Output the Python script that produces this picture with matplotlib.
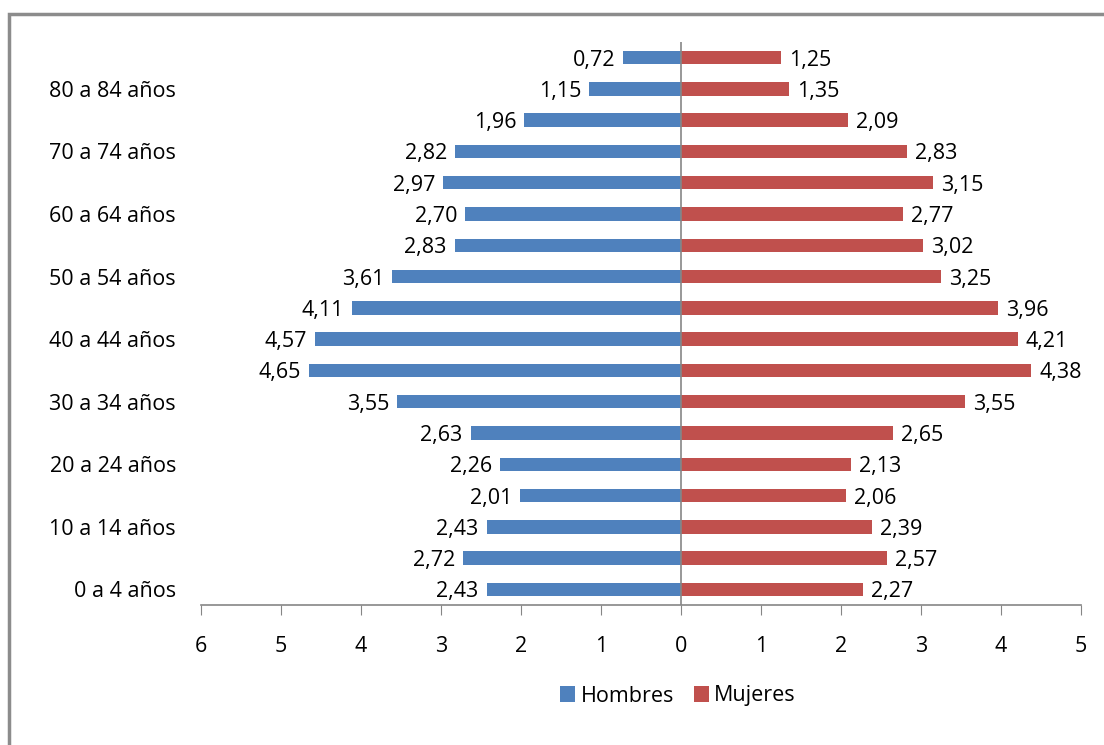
import numpy as np
import matplotlib.pyplot as plt
from matplotlib.patches import Rectangle

plt.rcParams['font.family'] = ['Open Sans', 'DejaVu Sans']

grupos = ['0 a 4 años', '5 a 9 años', '10 a 14 años', '15 a 19 años', '20 a 24 años',
          '25 a 29 años', '30 a 34 años', '35 a 39 años', '40 a 44 años', '45 a 49 años',
          '50 a 54 años', '55 a 59 años', '60 a 64 años', '65 a 69 años', '70 a 74 años',
          '75 a 79 años', '80 a 84 años', '85 y más años']
hombres = [2.43, 2.72, 2.43, 2.01, 2.26, 2.63, 3.55, 4.65, 4.57, 4.11,
           3.61, 2.83, 2.70, 2.97, 2.82, 1.96, 1.15, 0.72]
mujeres = [2.27, 2.57, 2.39, 2.06, 2.13, 2.65, 3.55, 4.38, 4.21, 3.96,
           3.25, 3.02, 2.77, 3.15, 2.83, 2.09, 1.35, 1.25]
xticks = [-6, -5, -4, -3, -2, -1, 0, 1, 2, 3, 4, 5]

azul = '#4F81BD'
rojo = '#C0504D'
fs = 15.5

fig = plt.figure(figsize=(11.04, 7.45), dpi=100)
ax = fig.add_axes([201/1104, 1-605/745, 880/1104, 563/745])

y = np.arange(len(grupos))
h = np.array(hombres)
m = np.array(mujeres)

ax.barh(y, -h, height=0.43, color=azul, label='Hombres')
ax.barh(y, m, height=0.43, color=rojo, label='Mujeres')

for yi, v in zip(y, h):
    ax.text(-v - 0.1, yi - 0.08, f'{v:.2f}'.replace('.', ','), ha='right', va='center', fontsize=fs)
for yi, v in zip(y, m):
    ax.text(v + 0.1, yi - 0.08, f'{v:.2f}'.replace('.', ','), ha='left', va='center', fontsize=fs)

ax.set_xlim(-6, 5)
ax.set_ylim(-0.5, len(grupos) - 0.5)
ax.axvline(0, color='#868686', lw=1.2, zorder=3)

ax.set_xticks(xticks)
ax.set_xticklabels([str(abs(t)) for t in xticks], fontsize=fs)
ax.set_yticks(y[::2])
ax.set_yticklabels(grupos[::2], fontsize=fs)
ax.tick_params(axis='y', length=0, pad=18)
ax.tick_params(axis='x', direction='out', length=7, color='#868686', pad=15)

for s in ['top', 'right', 'left']:
    ax.spines[s].set_visible(False)
ax.spines['bottom'].set_color('#868686')
ax.spines['bottom'].set_linewidth(1.2)

fig.legend(loc='center', bbox_to_anchor=(678/1104, 1-696/745), ncol=2, frameon=False,
           fontsize=fs, handlelength=0.7, handleheight=0.7, handletextpad=0.25,
           columnspacing=0.9)

fig.patches.append(Rectangle((9/1104, -0.1), 1.2, 1-14/745 + 0.1, transform=fig.transFigure,
                             fill=False, edgecolor='#8c8c8c', lw=2.5))

fig.savefig('out.png', dpi=100)
